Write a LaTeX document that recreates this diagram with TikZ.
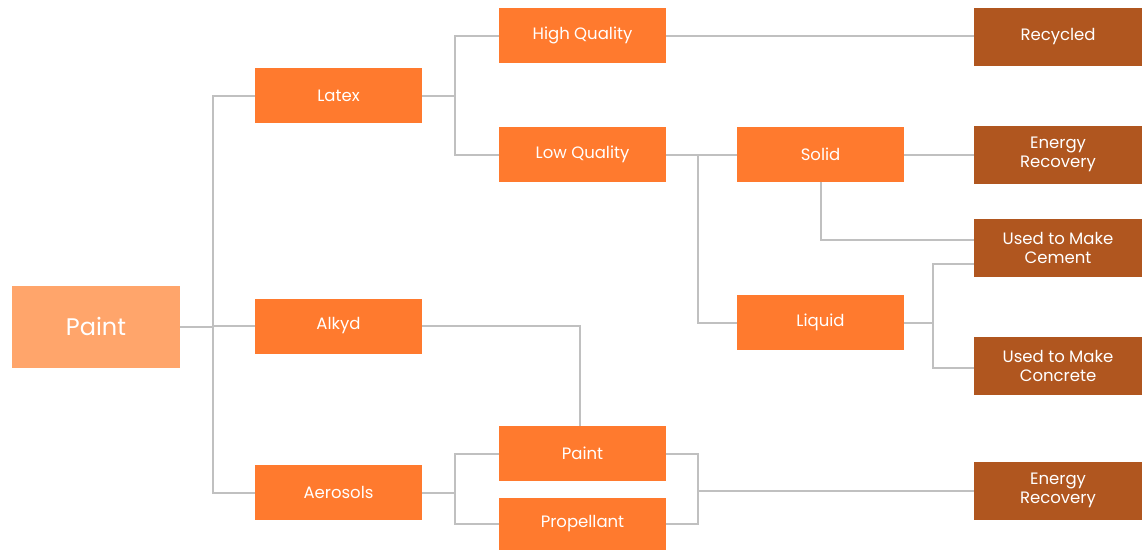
\documentclass[tikz,border=0pt]{standalone}
\usepackage{fontspec}
\setmainfont{Poppins}
\definecolor{rootorange}{HTML}{FFA56B}
\definecolor{midorange}{HTML}{FF7A2E}
\definecolor{darkorange}{HTML}{B0561F}
\definecolor{wiregray}{HTML}{C0C0C0}
\tikzset{
  box/.style = {fill=midorange, text=white, inner sep=0pt, align=center,
    minimum width=167pt, minimum height=55pt,
    font=\fontsize{16.5}{19}\selectfont},
  rootbox/.style = {box, fill=rootorange, minimum width=168pt,
    minimum height=82pt, font=\fontsize{24}{28}\selectfont},
  sinkbox/.style = {box, fill=darkorange, minimum width=168pt, minimum height=58pt},
  wire/.style = {draw=wiregray, line width=2pt}
}

\begin{document}
\begin{tikzpicture}[x=1pt,y=-1pt]
  \useasboundingbox (0,0) rectangle (1147,550);
  % sources
  \node[rootbox] (paint) at (96,326.5) {Paint};
  \node[box] (latex) at (338.5,95.5) {Latex};
  \node[box] (alkyd) at (338.5,326) {Alkyd};
  \node[box] (aerosols) at (338.5,492.5) {Aerosols};
  \node[box] (highq) at (582.5,35.5) {High Quality};
  \node[box] (lowq) at (582.5,154.5) {Low Quality};
  \node[box] (paintpart) at (582.5,453.5) {Paint};
  \node[box, minimum height=52pt] (propellant) at (582.5,523.5) {Propellant};
  \node[box] (solid) at (820.5,154.5) {Solid};
  \node[box] (liquid) at (820.5,322.5) {Liquid};
  % end uses
  \node[sinkbox] (recycled) at (1058,37) {Recycled};
  \node[sinkbox] (energyA) at (1058,154.5) {Energy\\Recovery};
  \node[sinkbox] (cement) at (1058,248) {Used to Make\\Cement};
  \node[sinkbox] (concrete) at (1058,366) {Used to Make\\Concrete};
  \node[sinkbox] (energyB) at (1058,490.5) {Energy\\Recovery};
  % junctions
  \coordinate (jroot) at (213,326.5);
  \coordinate (jlatex) at (455,95.5);
  \coordinate (jlow) at (698,154.5);
  \coordinate (jliquid) at (933,322.5);
  \coordinate (jaero) at (455,492.5);
  \coordinate (jspray) at (698,490.5);
  \draw[wire] (paint.east) -- (jroot) |- (latex.west)
    (jroot) |- (alkyd.west) (jroot) |- (aerosols.west);
  \draw[wire] (latex.east) -- (jlatex) |- (highq.west) (jlatex) |- (lowq.west);
  \draw[wire] (highq.east) -- (highq.east -| recycled.west);
  \draw[wire] (lowq.east) -- (solid.west) (jlow) |- (liquid.west);
  \draw[wire] (solid.east) -- (energyA.west);
  \draw[wire] (solid.south) |- ([yshift=8pt]cement.west);
  \draw[wire] (liquid.east) -- (jliquid) |- ([yshift=-16pt]cement.west)
    (jliquid) |- ([yshift=-2pt]concrete.west);
  \draw[wire] (alkyd.east) -| ([xshift=-2.5pt]paintpart.north);
  \draw[wire] (aerosols.east) -- (jaero) |- (paintpart.west) (jaero) |- (propellant.west);
  \draw[wire] (paintpart.east) -| (jspray) (propellant.east) -| (jspray)
    (jspray) -- (energyB.west);
\end{tikzpicture}
\end{document}
